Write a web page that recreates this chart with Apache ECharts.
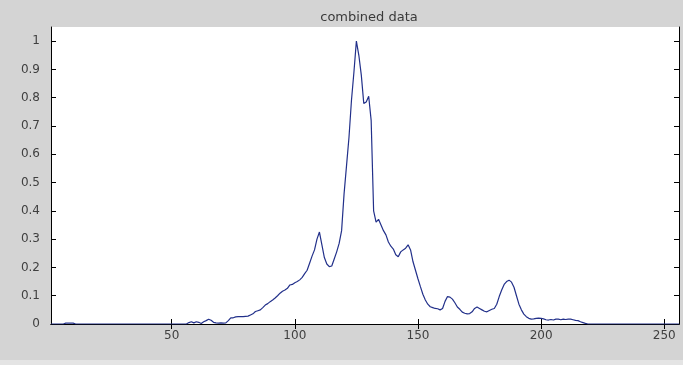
<!DOCTYPE html>
<html>
<head>
<meta charset="utf-8">
<script src="https://cdn.jsdelivr.net/npm/echarts@6/dist/echarts.min.js"></script>
<style>
html,body{margin:0;padding:0;background:#d4d4d4;}
#c{width:683px;height:365px;}
</style>
</head>
<body>
<div id="c"></div>
<script>
const titleText = "combined data";
const xTicks = [50, 100, 150, 200, 250];
const yTicks = [0, 0.1, 0.2, 0.3, 0.4, 0.5, 0.6, 0.7, 0.8, 0.9, 1];
// values for x = 1..256
const valsA = [0,0,0,0,0,0,0.003,0.003,0.003,0.003]; // x 1-10
const zerosB = new Array(46).fill(0); // x 11-56
const valsC = [ // x 57-120
0.005,0.008,0.004,0.008,0.006,0.002,0.008,0.012,0.017,0.013,
0.006,0.004,0.003,0.004,0.003,0.004,0.012,0.022,0.022,0.025,
0.026,0.026,0.026,0.027,0.028,0.032,0.036,0.044,0.047,0.05,
0.058,0.067,0.072,0.079,0.085,0.092,0.1,0.109,0.116,0.12,
0.126,0.138,0.14,0.146,0.15,0.156,0.165,0.178,0.19,0.215,
0.24,0.262,0.3,0.325,0.28,0.235,0.212,0.203,0.205,0.23,
0.255,0.285,0.33,0.46];
const valsD = [ // x 121-218
0.56,0.66,0.79,0.89,1.0,0.95,0.88,0.78,0.785,0.805,
0.72,0.4,0.36,0.37,0.35,0.33,0.315,0.29,0.275,0.265,
0.245,0.238,0.255,0.262,0.268,0.28,0.262,0.22,0.19,0.16,
0.132,0.105,0.085,0.07,0.061,0.058,0.055,0.054,0.05,0.055,
0.08,0.097,0.095,0.088,0.075,0.06,0.052,0.042,0.038,0.036,
0.037,0.043,0.055,0.06,0.055,0.05,0.045,0.043,0.048,0.052,
0.055,0.07,0.097,0.12,0.14,0.15,0.155,0.148,0.13,0.1,
0.07,0.05,0.035,0.026,0.02,0.017,0.018,0.02,0.021,0.02,
0.018,0.015,0.014,0.016,0.014,0.017,0.017,0.015,0.017,0.016,
0.017,0.017,0.015,0.013,0.012,0.008,0.005,0.002];
const zerosE = new Array(38).fill(0); // x 219-256

const values = valsA.concat(zerosB, valsC, valsD, zerosE);
const seriesData = values.map((v, i) => [i + 1, v]);

const chart = echarts.init(document.getElementById('c'), null, {renderer: 'canvas'});
const lbl = {color: '#404040', fontSize: 12, fontFamily: 'DejaVu Sans, sans-serif'};
chart.setOption({
  backgroundColor: '#d4d4d4',
  animation: false,
  title: {
    text: titleText, left: 364, textAlign: 'center', top: 6,
    textStyle: {color: '#3a3a3a', fontSize: 13, fontWeight: 'normal', fontFamily: 'DejaVu Sans, sans-serif'}
  },
  graphic: [{type: 'rect', shape: {x: 0, y: 360, width: 683, height: 5}, style: {fill: '#e4e4e4'}, silent: true}],
  grid: {left: 51, right: 4, top: 27, bottom: 41, show: true, backgroundColor: '#ffffff', borderWidth: 0},
  xAxis: [{
    type: 'value', min: 1, max: 256, position: 'bottom',
    axisLine: {show: true, lineStyle: {color: '#000', width: 1}},
    axisTick: {show: true, inside: true, length: 5, customValues: xTicks, lineStyle: {color: '#000'}},
    axisLabel: Object.assign({customValues: xTicks, margin: 6}, lbl),
    splitLine: {show: false}
  }, {
    type: 'value', min: 1, max: 256, position: 'top',
    axisLine: {show: true, lineStyle: {color: '#000', width: 1}},
    axisTick: {show: true, inside: true, length: 5, customValues: xTicks, lineStyle: {color: '#000'}},
    axisLabel: {show: false}, splitLine: {show: false}
  }],
  yAxis: [{
    type: 'value', min: 0, max: 1.05, position: 'left',
    axisLine: {show: true, lineStyle: {color: '#000', width: 1}},
    axisTick: {show: true, inside: true, length: 5, customValues: yTicks, lineStyle: {color: '#000'}},
    axisLabel: Object.assign({customValues: yTicks, margin: 11, formatter: v => String(+v.toFixed(2))}, lbl),
    splitLine: {show: false}
  }, {
    type: 'value', min: 0, max: 1.05, position: 'right',
    axisLine: {show: true, lineStyle: {color: '#000', width: 1}},
    axisTick: {show: true, inside: true, length: 5, customValues: yTicks, lineStyle: {color: '#000'}},
    axisLabel: {show: false}, splitLine: {show: false}
  }],
  series: [{
    type: 'line', data: seriesData, xAxisIndex: 0, yAxisIndex: 0,
    showSymbol: false, symbol: 'none',
    lineStyle: {color: '#22308a', width: 1.2}
  }]
});
</script>
</body>
</html>
